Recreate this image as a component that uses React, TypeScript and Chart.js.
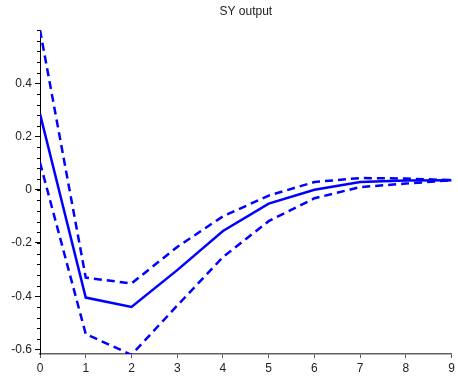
import React, { useEffect, useRef } from "react";
import { Chart, registerables } from "chart.js";

Chart.register(...registerables);

const steps = [0, 1, 2, 3, 4, 5, 6, 7, 8, 9];
const response = [0.285, -0.405, -0.44, -0.302, -0.155, -0.052, 0.0, 0.029, 0.035, 0.036];
const upperBand = [0.6, -0.33, -0.352, -0.215, -0.1, -0.022, 0.029, 0.044, 0.042, 0.036];
const lowerBand = [0.102, -0.542, -0.62, -0.435, -0.253, -0.118, -0.032, 0.01, 0.023, 0.036];
const yMajorTicks = [-0.6, -0.4, -0.2, 0, 0.2, 0.4];
const yMinorStep = 0.04;
const titleText = "SY output";

const FONT = "'Liberation Sans', Arial, sans-serif";

const minorTicks = {
  id: "minorTicks",
  afterDraw(chart: any) {
    const y = chart.scales.y;
    const ctx = chart.ctx;
    const left = chart.chartArea.left;
    ctx.save();
    ctx.strokeStyle = "#000";
    ctx.lineWidth = 1;
    ctx.beginPath();
    for (let i = -15; i <= 15; i++) {
      const v = i * yMinorStep;
      if (v < y.min - 1e-9 || v > y.max + 1e-9) continue;
      const p = Math.round(y.getPixelForValue(v)) + 0.5;
      ctx.moveTo(left - 3, p);
      ctx.lineTo(left, p);
    }
    ctx.stroke();
    ctx.restore();
  },
};

export default function App() {
  const ref = useRef<HTMLCanvasElement>(null);
  useEffect(() => {
    document.body.style.margin = "0";
    const mk = (ys: number[]) => steps.map((x, i) => ({ x, y: ys[i] }));
    const line = (ys: number[], dashed: boolean) => ({
      data: mk(ys),
      borderColor: "#0000ff",
      borderWidth: 2.5,
      borderDash: dashed ? [8, 5] : [],
      pointRadius: 0,
      tension: 0,
    });
    const chart = new Chart(ref.current!, {
      type: "line",
      data: {
        datasets: [line(upperBand, true), line(response, false), line(lowerBand, true)],
      },
      options: {
        responsive: false,
        animation: false,
        layout: { padding: { left: 0, right: 5, top: 0, bottom: 0 } },
        plugins: {
          legend: { display: false },
          tooltip: { enabled: false },
          title: {
            display: true,
            fullSize: false,
            text: titleText,
            color: "#222",
            font: { family: FONT, size: 12, weight: "normal" },
            padding: { top: 4, bottom: 11.6 },
          },
        },
        scales: {
          x: {
            type: "linear",
            min: 0,
            max: 9,
            ticks: {
              stepSize: 1,
              color: "#222",
              font: { family: FONT, size: 12 },
              padding: 3,
              maxRotation: 0,
            },
            grid: { drawOnChartArea: false, tickLength: 4, color: "#555" },
            border: { color: "#606060", width: 1.5 },
            afterFit: (s: any) => {
              s.height = 25;
            },
          },
          y: {
            type: "linear",
            min: -0.617,
            max: 0.6,
            afterBuildTicks: (s: any) => {
              s.ticks = yMajorTicks.map((v) => ({ value: v }));
            },
            ticks: {
              color: "#222",
              font: { family: FONT, size: 12 },
              padding: 3,
              callback: (v: any) => {
                const n = Math.round(Number(v) * 10) / 10;
                return n === 0 ? "0" : n.toFixed(1);
              },
            },
            grid: { drawOnChartArea: false, tickLength: 5, color: "#000" },
            border: { color: "#000", width: 1 },
            afterFit: (s: any) => {
              s.width = 40;
            },
          },
        },
      },
      plugins: [minorTicks],
    });
    return () => chart.destroy();
  }, []);
  return <canvas ref={ref} width={458} height={379} />;
}
